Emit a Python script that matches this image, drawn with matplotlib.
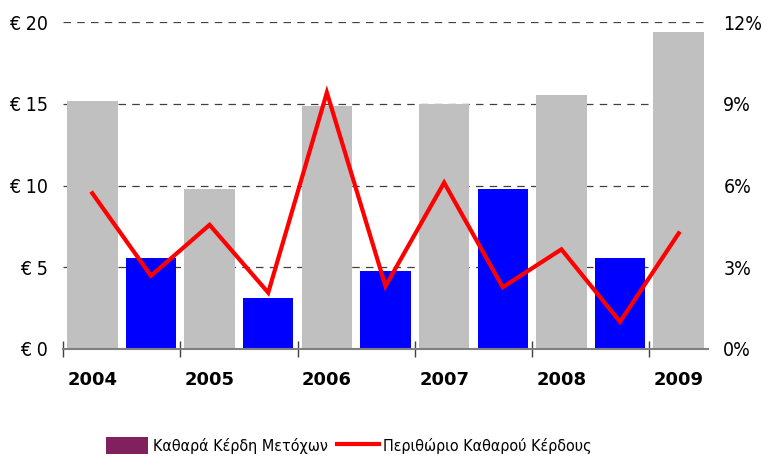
import matplotlib
matplotlib.use("Agg")
import matplotlib.pyplot as plt
from matplotlib.patches import Patch
from matplotlib.lines import Line2D

years = ["2004", "2005", "2006", "2007", "2008", "2009"]
gray_values = [15.2, 9.8, 14.9, 15.0, 15.55, 19.4]
blue_values = [5.57, 3.1, 4.78, 9.8, 5.57]
margin_pct = [5.72, 2.69, 4.56, 2.07, 9.42, 2.31, 6.11, 2.27, 3.66, 1.0, 4.25]
y_ticks = [0, 5, 10, 15, 20]
y_labels = ["€ 0", "€ 5", "€ 10", "€ 15", "€ 20"]
pct_ticks = [0, 3, 6, 9, 12]
pct_labels = ["0%", "3%", "6%", "9%", "12%"]
legend_labels = ["Καθαρά Κέρδη Μετόχων", "Περιθώριο Καθαρού Κέρδους"]

fig = plt.figure(figsize=(7.64, 4.57), dpi=100)
ax = fig.add_axes([63/764, 1 - 349/457, (708-63)/764, (349-22.3)/457])

gray_x = [i + 0.25 for i in range(len(gray_values))]
blue_x = [i + 0.75 for i in range(len(blue_values))]
w = 0.43
ax.bar(gray_x, gray_values, width=w, color="#C0C0C0", zorder=2)
ax.bar(blue_x, blue_values, width=w, color="#0000FF", zorder=2)

ax.set_xlim(0, 5.5)
ax.set_ylim(0, 20)
ax.set_yticks(y_ticks)
ax.set_yticklabels(y_labels, fontsize=14, fontstretch="condensed")
for y in y_ticks[1:]:
    ax.axhline(y, color="#404040", lw=0.9, ls=(0, (6, 5)), zorder=1)
ax.tick_params(axis="y", length=0, pad=11)

ax.set_xticks(gray_x)
ax.set_xticklabels(years, fontsize=13, fontweight="bold")
ax.set_xticks(range(6), minor=True)
ax.tick_params(axis="x", which="major", length=0, pad=16)
ax.tick_params(axis="x", which="minor", length=12, direction="inout", color="#404040", width=1)

for s in ["top", "right", "left"]:
    ax.spines[s].set_visible(False)
ax.spines["bottom"].set_color("#808080")
ax.spines["bottom"].set_linewidth(1.5)
ax.spines["bottom"].set_zorder(5)

ax2 = ax.twinx()
line_x = sorted(gray_x + blue_x)
ax2.plot(line_x, margin_pct, color="#FF0000", lw=3, zorder=4, solid_joinstyle="miter")
ax2.set_ylim(0, 12)
ax2.set_yticks(pct_ticks)
ax2.set_yticklabels(pct_labels, fontsize=14, fontstretch="condensed")
ax2.tick_params(axis="y", length=0, pad=11)
for s in ["top", "right", "left", "bottom"]:
    ax2.spines[s].set_visible(False)

handles = [Patch(facecolor="#80205F", edgecolor="none"),
           Line2D([0], [0], color="#FF0000", lw=3)]
fig.legend(handles, legend_labels, loc="lower center", bbox_to_anchor=(0.457, -0.025),
           ncol=2, frameon=False, prop={"size": 11.5, "stretch": "condensed"},
           handlelength=2.6, handleheight=1.2, handletextpad=0.3, columnspacing=0.6)

fig.savefig("out.png", dpi=100)
